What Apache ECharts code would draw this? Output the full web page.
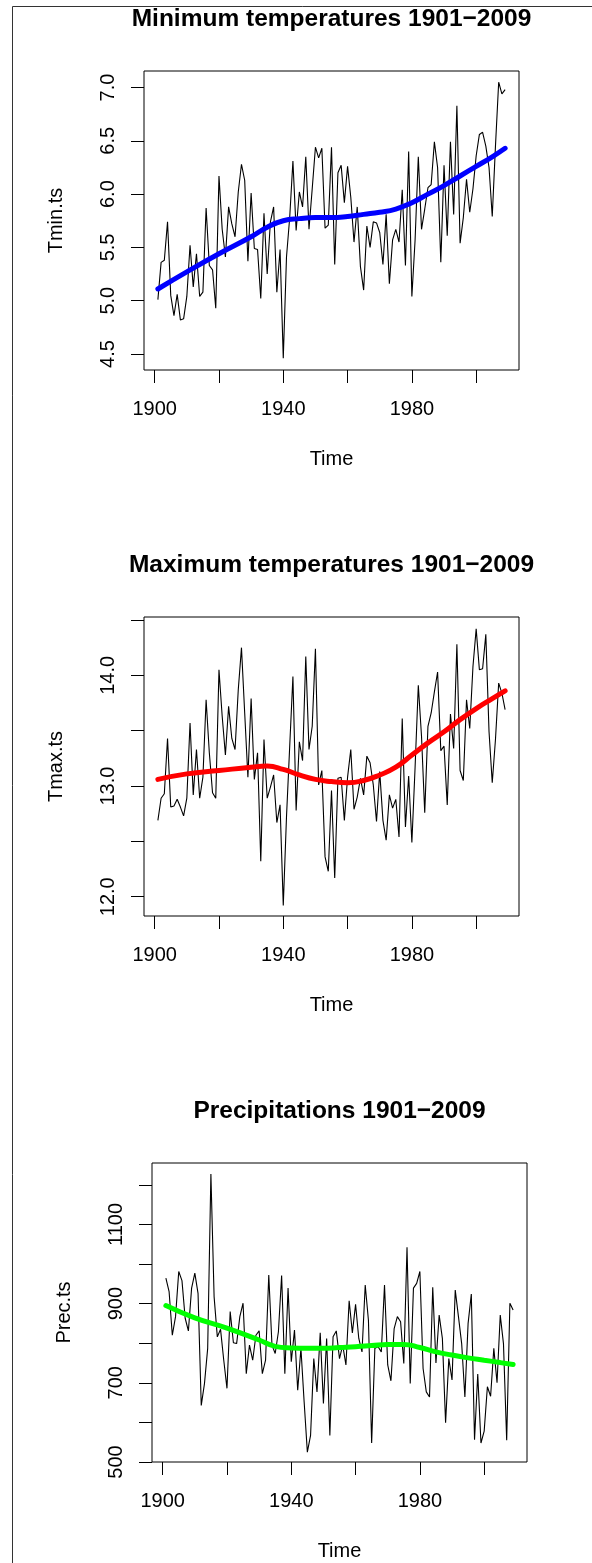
<!DOCTYPE html>
<html>
<head>
<meta charset="utf-8">
<title>Temperatures and precipitations 1901-2009</title>
<script src="https://cdn.jsdelivr.net/npm/echarts@6/dist/echarts.min.js"></script>
<style>
  html, body { margin: 0; padding: 0; background: #fff; }
  #chart { width: 592px; height: 1563px; }
</style>
</head>
<body>
<div id="chart"></div>
<script>
// ==============================================================
// data (yearly series, first year 1901)
// ==============================================================
var startYear = 1901;

var tmin = [5.01, 5.36, 5.38, 5.74, 5.05, 4.86, 5.06, 4.82, 4.83, 5.04,
            5.52, 5.13, 5.44, 5.04, 5.08, 5.87, 5.33, 5.29, 4.93, 6.17,
            5.67, 5.41, 5.88, 5.72, 5.60, 6.02, 6.28, 6.13, 5.37, 6.01,
            5.49, 5.48, 5.02, 5.82, 5.25, 5.74, 5.88, 5.08, 5.48, 4.46,
            5.41, 5.78, 6.31, 5.66, 6.02, 5.88, 6.35, 5.67, 6.05, 6.44,
            6.34, 6.43, 5.68, 5.71, 6.44, 5.34, 6.20, 6.27, 5.92, 6.26,
            5.97, 5.55, 5.88, 5.32, 5.10, 5.70, 5.50, 5.74, 5.73, 5.64,
            5.34, 5.81, 5.16, 5.57, 5.67, 5.55, 6.04, 5.33, 6.40, 5.04,
            5.57, 6.35, 5.67, 5.86, 6.06, 6.09, 6.49, 6.25, 5.36, 6.27,
            5.61, 6.49, 5.81, 6.83, 5.54, 5.78, 6.14, 5.83, 6.05, 6.36,
            6.56, 6.58, 6.45, 6.25, 5.79, 6.45, 7.05, 6.94, 6.98];

var tmax = [12.69, 12.89, 12.93, 13.43, 12.81, 12.82, 12.88, 12.81, 12.73, 12.89,
            13.57, 12.92, 13.33, 12.89, 13.08, 13.78, 13.30, 12.94, 12.89, 14.05,
            13.63, 13.28, 13.72, 13.43, 13.33, 13.87, 14.25, 13.66, 13.08, 13.79,
            13.06, 13.30, 12.32, 13.42, 12.89, 12.99, 13.10, 12.67, 12.83, 11.92,
            12.72, 13.36, 13.99, 12.78, 13.40, 13.23, 14.17, 13.33, 13.54, 14.24,
            13.01, 13.14, 12.36, 12.23, 12.96, 12.17, 13.07, 13.08, 12.69, 13.08,
            13.33, 12.79, 12.90, 13.07, 12.92, 13.27, 13.21, 13.01, 12.68, 13.13,
            12.69, 12.51, 12.92, 12.80, 12.88, 12.54, 13.61, 12.63, 13.09, 12.49,
            13.17, 13.91, 13.45, 12.76, 13.54, 13.66, 13.85, 14.03, 13.32, 13.36,
            12.83, 13.65, 13.34, 14.28, 13.14, 13.05, 13.78, 13.52, 14.08, 14.42,
            14.05, 14.06, 14.37, 13.49, 13.03, 13.42, 13.93, 13.84, 13.69];

var prec = [964, 930, 820, 867, 981, 958, 863, 831, 939, 977,
            926, 643, 698, 787, 1227, 917, 816, 835, 757, 686,
            880, 801, 799, 867, 901, 723, 795, 757, 820, 831,
            723, 757, 972, 795, 774, 829, 971, 723, 939, 753,
            833, 681, 787, 652, 525, 567, 761, 677, 826, 648,
            812, 567, 816, 831, 761, 795, 745, 907, 826, 898,
            812, 778, 947, 858, 548, 787, 791, 778, 947, 745,
            705, 837, 867, 854, 749, 1042, 698, 939, 951, 981,
            736, 677, 664, 941, 750, 871, 812, 599, 761, 707,
            934, 867, 799, 664, 850, 924, 556, 722, 548, 578,
            690, 666, 787, 700, 871, 799, 555, 901, 884];

// smoothed trend, read at these years
var smoothYears = [1901, 1910, 1920, 1930, 1935, 1940, 1945, 1950, 1955, 1960,
                   1965, 1970, 1975, 1980, 1985, 1990, 1995, 2000, 2005, 2009];
var tminSmooth = [5.11, 5.27, 5.44, 5.60, 5.69, 5.75, 5.77, 5.78, 5.78, 5.79,
                  5.81, 5.83, 5.86, 5.92, 6.00, 6.08, 6.17, 6.26, 6.35, 6.43];
var tmaxSmooth = [13.06, 13.11, 13.14, 13.17, 13.18, 13.15, 13.10, 13.06, 13.04, 13.03,
                  13.05, 13.10, 13.17, 13.28, 13.39, 13.49, 13.60, 13.70, 13.79, 13.86];
var precSmooth = [895, 864, 838, 808, 792, 788, 787, 787, 789, 791,
                  794, 797, 797, 789, 778, 770, 763, 757, 751, 746];

// axis ticks and labels
var xTicks = [1900, 1920, 1940, 1960, 1980, 2000];
var xLabels = [1900, 1940, 1980];
var tminTicks = [4.5, 5.0, 5.5, 6.0, 6.5, 7.0];
var tminLabels = [4.5, 5.0, 5.5, 6.0, 6.5, 7.0];
var tmaxTicks = [12.0, 12.5, 13.0, 13.5, 14.0, 14.5];
var tmaxLabels = [12.0, 13.0, 14.0];
var precTicks = [500, 600, 700, 800, 900, 1000, 1100, 1200];
var precLabels = [500, 700, 900, 1100];

// ==============================================================
// layout
// ==============================================================
var FONT = '"Liberation Sans", Arial, Helvetica, sans-serif';

var panels = [
    { title: 'Minimum temperatures 1901\u22122009', yName: 'Tmin.ts',
      values: tmin, smooth: tminSmooth, color: '#0000ff',
      ticks: tminTicks, labels: tminLabels, min: 4.35, max: 7.155, dec: 1,
      left: 144, top: 71 },
    { title: 'Maximum temperatures 1901\u22122009', yName: 'Tmax.ts',
      values: tmax, smooth: tmaxSmooth, color: '#ff0000',
      ticks: tmaxTicks, labels: tmaxLabels, min: 11.826, max: 14.527, dec: 1,
      left: 144, top: 617 },
    { title: 'Precipitations 1901\u22122009', yName: 'Prec.ts',
      values: prec, smooth: precSmooth, color: '#00ff00',
      ticks: precTicks, labels: precLabels, min: 500, max: 1255, dec: 0,
      left: 152, top: 1163 }
];
var W = 375, H = 299;

var myChart = echarts.init(document.getElementById('chart'), null, { renderer: 'canvas' });

var grids = [], xAxes = [], yAxes = [], series = [], graphics = [];

panels.forEach(function (p, i) {
    grids.push({
        left: p.left, top: p.top, width: W, height: H,
        show: true, borderColor: '#000', borderWidth: 1, backgroundColor: 'transparent'
    });

    xAxes.push({
        type: 'value', gridIndex: i,
        min: 1896.68, max: 2013.32,
        name: 'Time', nameLocation: 'middle', nameGap: 79,
        nameTextStyle: { color: '#000', fontSize: 20, fontFamily: FONT },
        axisLine: { show: false },
        axisTick: { show: true, length: 13, customValues: xTicks,
                    lineStyle: { color: '#000', width: 1 } },
        axisLabel: { customValues: xLabels, color: '#000', fontSize: 20,
                     fontFamily: FONT, margin: 29,
                     formatter: function (v) { return String(v); } },
        splitLine: { show: false }
    });

    yAxes.push({
        type: 'value', gridIndex: i,
        min: p.min, max: p.max,
        name: p.yName, nameLocation: 'middle', nameGap: 78,
        nameTextStyle: { color: '#000', fontSize: 20, fontFamily: FONT },
        axisLine: { show: false },
        axisTick: { show: true, length: 13, customValues: p.ticks,
                    lineStyle: { color: '#000', width: 1 } },
        axisLabel: {
            customValues: p.labels, rotate: 90, color: '#000', fontSize: 20,
            fontFamily: FONT, margin: 26,
            formatter: (function (dec) {
                return function (v) { return Number(v).toFixed(dec); };
            })(p.dec)
        },
        splitLine: { show: false }
    });

    series.push({
        type: 'line', xAxisIndex: i, yAxisIndex: i,
        data: p.values.map(function (v, k) { return [startYear + k, v]; }),
        showSymbol: false, silent: true,
        lineStyle: { color: '#000', width: 1.1 },
        itemStyle: { color: '#000' }
    });

    series.push({
        type: 'line', xAxisIndex: i, yAxisIndex: i,
        data: smoothYears.map(function (y, k) { return [y, p.smooth[k]]; }),
        smooth: true, showSymbol: false, silent: true,
        lineStyle: { color: p.color, width: 5, cap: 'round' },
        itemStyle: { color: p.color }
    });

    graphics.push({
        type: 'text',
        x: p.left + W / 2, y: p.top - 52,
        style: {
            text: p.title, fill: '#000',
            font: 'bold 24.5px ' + FONT,
            textAlign: 'center', textVerticalAlign: 'middle'
        }
    });
});

// page frame (top and left edges)
graphics.push({
    type: 'rect',
    shape: { x: 12.5, y: 6.5, width: 900, height: 2000 },
    style: { fill: 'none', stroke: '#333', lineWidth: 1 }
});

option = {
    animation: false,
    backgroundColor: '#fff',
    grid: grids,
    xAxis: xAxes,
    yAxis: yAxes,
    series: series,
    graphic: graphics
};

myChart.setOption(option, true);
</script>
</body>
</html>
